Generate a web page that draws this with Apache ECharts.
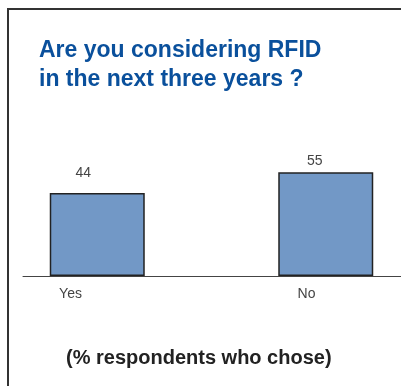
<!DOCTYPE html>
<html>
<head>
<meta charset="utf-8">
<script src="https://cdn.jsdelivr.net/npm/echarts@6/dist/echarts.min.js"></script>
<style>
html,body{margin:0;padding:0;background:#fff}
#rfidchart{width:401px;height:386px}
</style>
</head>
<body>
<div id='rfidchart'></div>
<script>
// 数据
var categories = ['Yes', 'No'];
var percentValues = [44, 55];
var titleText = 'Are you considering RFID\nin the next three years ?';
var footText = '(% respondents who chose)';

// label nudges, per bar (picture has them slightly off-centre)
var valueLabelOffsets = [[-14, -8], [-11, 1]];

var myChart = echarts.init(document.getElementById('rfidchart'));
var option = {
  animation: false,
  backgroundColor: '#fff',
  title: [{
    text: titleText,
    left: 39,
    top: 36,
    padding: 0,
    textStyle: {
      fontFamily: 'Liberation Sans',
      fontSize: 23,
      fontWeight: 'bold',
      color: '#0a509c',
      lineHeight: 29
    }
  }, {
    text: footText,
    left: 66,
    top: 348,
    padding: 0,
    textStyle: {
      fontFamily: 'Liberation Sans',
      fontSize: 20,
      fontWeight: 'bold',
      color: '#222',
      lineHeight: 20
    }
  }],
  graphic: [{
    type: 'polyline',
    shape: { points: [[401, 9], [8, 9], [8, 386]] },
    style: { stroke: '#333', lineWidth: 2, fill: null }
  }],
  grid: [
    { left: -17, width: 457, top: 125, bottom: 110, outerBoundsMode: 'none', containLabel: false },
    { left: 23, right: 0, top: 125, bottom: 110, outerBoundsMode: 'none' }
  ],
  xAxis: [{
    type: 'category',
    gridIndex: 0,
    data: categories,
    axisLine: { show: false },
    axisTick: { show: false },
    axisLabel: { show: false }
  }, {
    type: 'category',
    gridIndex: 1,
    data: categories,
    axisLine: { lineStyle: { color: '#444', width: 1 } },
    axisTick: { show: false },
    axisLabel: {
      margin: 11,
      fontFamily: 'Liberation Sans',
      fontSize: 14,
      color: '#444',
      formatter: function (v, i) { return '{c' + i + '|' + v + '}'; },
      rich: {
        c0: { fontFamily: 'Liberation Sans', fontSize: 14, color: '#444', padding: [0, 94, 0, 0] },
        c1: { fontFamily: 'Liberation Sans', fontSize: 14, color: '#444' }
      }
    }
  }],
  yAxis: [
    { type: 'value', gridIndex: 0, min: 0, max: 80, show: false },
    { type: 'value', gridIndex: 1, min: 0, max: 80, show: false }
  ],
  series: [{
    type: 'bar',
    xAxisIndex: 0,
    yAxisIndex: 0,
    barWidth: 95,
    data: percentValues.map(function (v, i) {
      return { value: v, label: { offset: valueLabelOffsets[i] } };
    }),
    itemStyle: {
      color: '#7298c6',
      borderColor: '#222',
      borderWidth: 1.5
    },
    label: {
      show: true,
      position: 'top',
      fontFamily: 'Liberation Sans',
      fontSize: 14,
      color: '#444'
    }
  }]
};
myChart.setOption(option);
</script>
</body>
</html>
